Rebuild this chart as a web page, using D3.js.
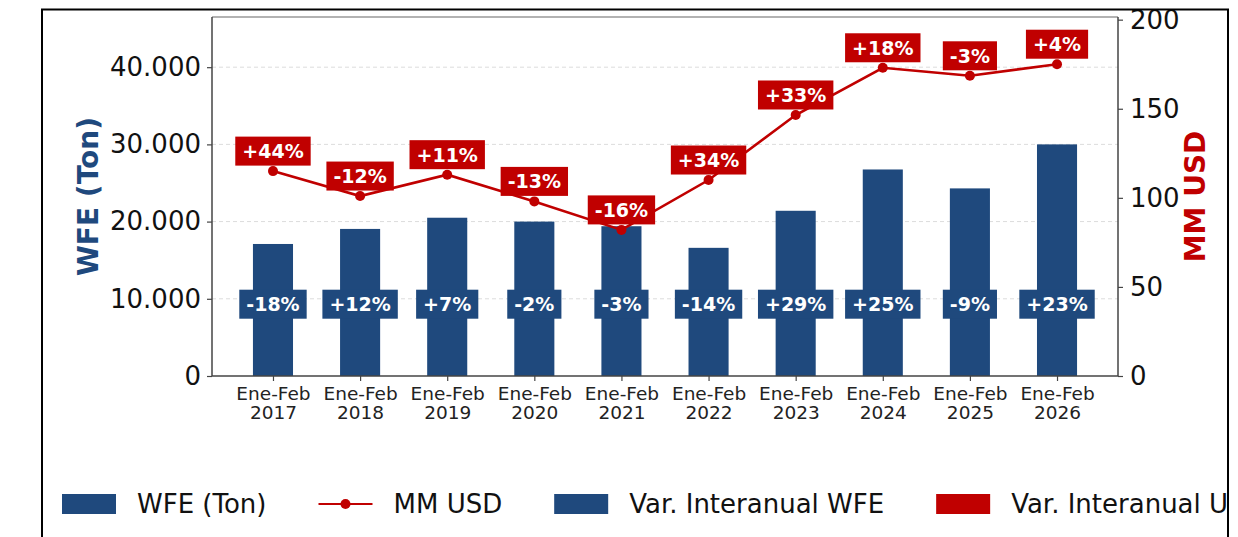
<!DOCTYPE html>
<html>
<head>
<meta charset="utf-8">
<script src="https://d3js.org/d3.v7.min.js"></script>
<style>
  body { margin: 0; background: #fff; }
  svg { display: block; font-family: 'DejaVu Sans', sans-serif; }
</style>
</head>
<body>
<svg id="chart" width="1238" height="537"></svg>
<script>
// data
const periods = ["Ene-Feb 2017", "Ene-Feb 2018", "Ene-Feb 2019", "Ene-Feb 2020", "Ene-Feb 2021",
                 "Ene-Feb 2022", "Ene-Feb 2023", "Ene-Feb 2024", "Ene-Feb 2025", "Ene-Feb 2026"];
const wfeTon = [17100, 19050, 20500, 20000, 19400, 16600, 21400, 26750, 24300, 30000];
const mmUsd = [115, 101, 113, 98, 82, 110, 146.5, 173, 168.5, 175];
const varWfe = ["-18%", "+12%", "+7%", "-2%", "-3%", "-14%", "+29%", "+25%", "-9%", "+23%"];
const varUsd = ["+44%", "-12%", "+11%", "-13%", "-16%", "+34%", "+33%", "+18%", "-3%", "+4%"];
const leftTicks = [0, 10000, 20000, 30000, 40000];
const rightTicks = [0, 50, 100, 150, 200];
const legendItems = ["WFE (Ton)", "MM USD", "Var. Interanual WFE", "Var. Interanual USD"];

const BLUE = "#1F497D", RED = "#C00000";

const svg = d3.select("#chart");
const plot = {left: 212, right: 1118, top: 17, bottom: 376};

// clip everything to the outer frame, like the cropped figure
svg.append("defs").append("clipPath").attr("id", "frameClip")
  .append("rect").attr("x", 43).attr("y", 10).attr("width", 1184).attr("height", 600);
const root = svg.append("g").attr("clip-path", "url(#frameClip)");

const x = d3.scaleLinear().domain([-0.7, 9.7]).range([plot.left, plot.right]);
const yL = d3.scaleLinear().domain([0, 46500]).range([plot.bottom, plot.top]);
const yR = d3.scaleLinear().domain([0, 201.5]).range([plot.bottom, plot.top]);

const es = d3.formatLocale({decimal: ",", thousands: ".", grouping: [3], currency: ["$", ""]});
const fmt = es.format(",");

// grid
root.append("g").selectAll("line")
  .data(leftTicks.filter(d => d > 0))
  .join("line")
  .attr("x1", plot.left).attr("x2", plot.right)
  .attr("y1", d => yL(d)).attr("y2", d => yL(d))
  .attr("stroke", "#dcdcdc").attr("stroke-width", 1).attr("stroke-dasharray", "4,3");

// bars
const barW = x(0.46) - x(0);
root.append("g").selectAll("rect")
  .data(wfeTon)
  .join("rect")
  .attr("x", (d, i) => x(i) - barW / 2)
  .attr("y", d => yL(d))
  .attr("width", barW)
  .attr("height", d => yL(0) - yL(d))
  .attr("fill", BLUE);

// spines
const sp = root.append("g").attr("fill", "none");
sp.append("line").attr("x1", plot.left).attr("x2", plot.right).attr("y1", plot.top).attr("y2", plot.top)
  .attr("stroke", "#999").attr("stroke-width", 1.5);
sp.append("line").attr("x1", plot.left).attr("x2", plot.right).attr("y1", plot.bottom).attr("y2", plot.bottom)
  .attr("stroke", "#444").attr("stroke-width", 1.5);
sp.append("line").attr("x1", plot.left).attr("x2", plot.left).attr("y1", plot.top).attr("y2", plot.bottom)
  .attr("stroke", "#444").attr("stroke-width", 1.5);
sp.append("line").attr("x1", plot.right).attr("x2", plot.right).attr("y1", plot.top).attr("y2", plot.bottom)
  .attr("stroke", "#444").attr("stroke-width", 1.5);

// left axis
const axL = root.append("g").attr("transform", `translate(${plot.left},0)`)
  .call(d3.axisLeft(yL).tickValues(leftTicks).tickFormat(d => fmt(d)).tickSize(5).tickPadding(6));
axL.select(".domain").remove();
axL.selectAll("line").attr("stroke", "#444").attr("stroke-width", 1.2);
axL.selectAll("text").attr("font-size", 26).attr("fill", "#111").attr("font-family", "DejaVu Sans");

// right axis
const axR = root.append("g").attr("transform", `translate(${plot.right},0)`)
  .call(d3.axisRight(yR).tickValues(rightTicks).tickSize(5).tickPadding(7));
axR.select(".domain").remove();
axR.selectAll("line").attr("stroke", "#444").attr("stroke-width", 1.2);
axR.selectAll("text").attr("font-size", 26).attr("fill", "#111").attr("font-family", "DejaVu Sans");

// bottom axis
const axB = root.append("g").attr("transform", `translate(0,${plot.bottom})`)
  .call(d3.axisBottom(x).tickValues(d3.range(periods.length)).tickSize(5).tickFormat(""));
axB.select(".domain").remove();
axB.selectAll("line").attr("stroke", "#444").attr("stroke-width", 1.2);
axB.selectAll(".tick").each(function(d) {
  const parts = periods[d].split(" ");
  const t = d3.select(this).append("text")
    .attr("text-anchor", "middle").attr("font-size", 18.5).attr("fill", "#222")
    .attr("font-family", "DejaVu Sans");
  t.append("tspan").attr("x", 0).attr("y", 24).text(parts[0]);
  t.append("tspan").attr("x", 0).attr("y", 43).text(parts[1]);
});

// axis titles
root.append("text")
  .attr("transform", `translate(88,${(plot.top + plot.bottom) / 2}) rotate(-90)`)
  .attr("text-anchor", "middle").attr("dominant-baseline", "central")
  .attr("font-size", 28).attr("font-weight", "bold").attr("fill", BLUE)
  .text("WFE (Ton)");
root.append("text")
  .attr("transform", `translate(1195,${(plot.top + plot.bottom) / 2}) rotate(-90)`)
  .attr("text-anchor", "middle").attr("dominant-baseline", "central")
  .attr("font-size", 28).attr("font-weight", "bold").attr("fill", RED)
  .text("MM USD");

// boxed variation labels
function boxLabel(g, cx, cy, txt, fill) {
  const t = g.append("text")
    .attr("x", cx).attr("y", cy).attr("dy", "0.36em")
    .attr("text-anchor", "middle").attr("font-size", 19).attr("font-weight", "bold")
    .attr("fill", "#fff").text(txt);
  const w = t.node().getComputedTextLength() + 14;
  g.insert("rect", "text:last-of-type")
    .attr("x", cx - w / 2).attr("y", cy - 14.5).attr("width", w).attr("height", 29)
    .attr("fill", fill);
}
const blueG = root.append("g");
varWfe.forEach((v, i) => {
  boxLabel(blueG.append("g"), x(i), yL(46500 * 0.2), v, BLUE);
});

// line + markers
const line = d3.line().x((d, i) => x(i)).y(d => yR(d));
root.append("path").datum(mmUsd)
  .attr("d", line).attr("fill", "none").attr("stroke", RED).attr("stroke-width", 2.6);
root.append("g").selectAll("circle")
  .data(mmUsd).join("circle")
  .attr("cx", (d, i) => x(i)).attr("cy", d => yR(d)).attr("r", 5).attr("fill", RED);

// red variation labels
const redG = root.append("g");
varUsd.forEach((v, i) => {
  boxLabel(redG.append("g"), x(i), yR(mmUsd[i]) - 20, v, RED);
});

// legend
const leg = root.append("g").attr("transform", "translate(62,504)");
let lx = 0;
legendItems.forEach((name, i) => {
  const g = leg.append("g").attr("transform", `translate(${lx},0)`);
  if (i === 1) {
    g.append("line").attr("x1", 0).attr("x2", 54).attr("y1", 0).attr("y2", 0)
      .attr("stroke", RED).attr("stroke-width", 2);
    g.append("circle").attr("cx", 27).attr("cy", 0).attr("r", 5).attr("fill", RED);
  } else {
    g.append("rect").attr("x", 0).attr("y", -10).attr("width", 54).attr("height", 20)
      .attr("fill", i === 3 ? RED : BLUE);
  }
  const t = g.append("text").attr("x", 75).attr("y", 0).attr("dy", "0.35em")
    .attr("font-size", 26).attr("fill", "#111").text(name);
  lx += 75 + t.node().getComputedTextLength() + 52;
});

// outer frame
svg.append("rect").attr("x", 42).attr("y", 9.5).attr("width", 1186).attr("height", 600)
  .attr("fill", "none").attr("stroke", "#000").attr("stroke-width", 2);
</script>
</body>
</html>
